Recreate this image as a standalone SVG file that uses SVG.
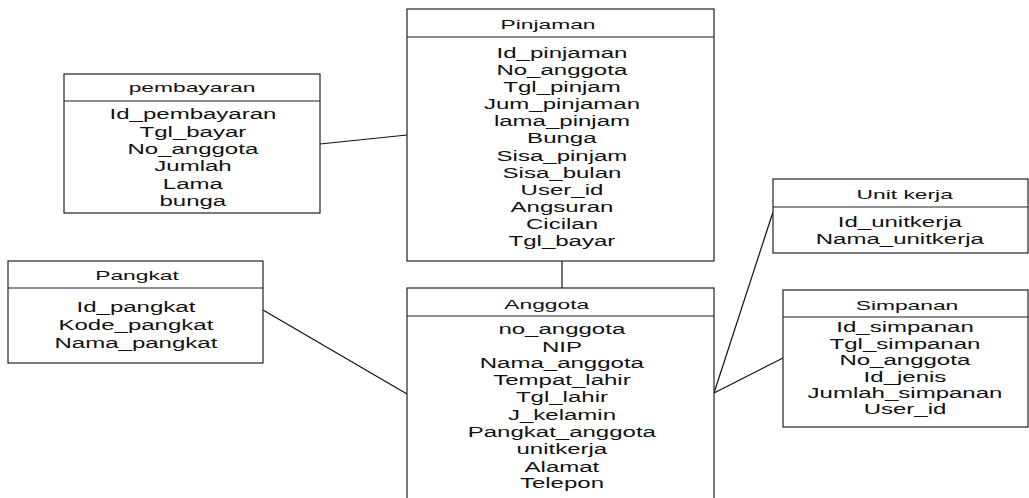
<svg xmlns="http://www.w3.org/2000/svg" width="1029" height="498" viewBox="0 0 1029 498">
<style>
rect.box{fill:#fff;stroke:#222;stroke-width:1.2}
line.div{stroke:#222;stroke-width:1.2}
.conn line{stroke:#111;stroke-width:1.2}
text{font-family:"Liberation Sans",Arial,sans-serif;fill:#111;text-anchor:middle;transform-box:fill-box;transform-origin:center}
.t{font-size:12px;transform:scaleX(1.9)}
.a{font-size:15.5px;transform:scaleX(1.55)}
</style>
<rect width="1029" height="498" fill="#fff"/>
<g id="connectors" class="conn">
<line x1="562" y1="261" x2="562" y2="288"/>
<line x1="320" y1="144" x2="407" y2="135"/>
<line x1="263" y1="310" x2="407" y2="394"/>
<line x1="773" y1="212" x2="714" y2="393"/>
<line x1="783" y1="358" x2="714" y2="393"/>
</g>
<g id="pinjaman">
<rect class="box" x="407" y="9" width="307" height="252"/>
<line class="div" x1="407" y1="37" x2="714" y2="37"/>
<text class="t" x="548" y="29">Pinjaman</text>
<text class="a" x="562" y="58">Id_pinjaman</text>
<text class="a" x="562" y="75">No_anggota</text>
<text class="a" x="562" y="92">Tgl_pinjam</text>
<text class="a" x="562" y="109">Jum_pinjaman</text>
<text class="a" x="562" y="126">lama_pinjam</text>
<text class="a" x="562" y="143">Bunga</text>
<text class="a" x="562" y="161">Sisa_pinjam</text>
<text class="a" x="562" y="178">Sisa_bulan</text>
<text class="a" x="562" y="195">User_id</text>
<text class="a" x="562" y="212">Angsuran</text>
<text class="a" x="562" y="229">Cicilan</text>
<text class="a" x="562" y="246">Tgl_bayar</text>
</g>
<g id="pembayaran">
<rect class="box" x="64" y="74" width="256" height="139"/>
<line class="div" x1="64" y1="101" x2="320" y2="101"/>
<text class="t" x="192" y="92">pembayaran</text>
<text class="a" x="193" y="119">Id_pembayaran</text>
<text class="a" x="193" y="137">Tgl_bayar</text>
<text class="a" x="193" y="154">No_anggota</text>
<text class="a" x="193" y="171">Jumlah</text>
<text class="a" x="193" y="189">Lama</text>
<text class="a" x="193" y="206">bunga</text>
</g>
<g id="pangkat">
<rect class="box" x="8" y="261" width="255" height="102"/>
<line class="div" x1="8" y1="288" x2="263" y2="288"/>
<text class="t" x="137" y="280">Pangkat</text>
<text class="a" x="136" y="312">Id_pangkat</text>
<text class="a" x="136" y="330">Kode_pangkat</text>
<text class="a" x="136" y="348">Nama_pangkat</text>
</g>
<g id="anggota">
<rect class="box" x="407" y="288" width="307" height="230"/>
<line class="div" x1="407" y1="316" x2="714" y2="316"/>
<text class="t" x="547" y="309">Anggota</text>
<text class="a" x="562" y="334">no_anggota</text>
<text class="a" x="562" y="352">NIP</text>
<text class="a" x="562" y="368">Nama_anggota</text>
<text class="a" x="562" y="385">Tempat_lahir</text>
<text class="a" x="562" y="402">Tgl_lahir</text>
<text class="a" x="562" y="420">J_kelamin</text>
<text class="a" x="562" y="437">Pangkat_anggota</text>
<text class="a" x="562" y="454">unitkerja</text>
<text class="a" x="562" y="472">Alamat</text>
<text class="a" x="562" y="488">Telepon</text>
</g>
<g id="unitkerja">
<rect class="box" x="773" y="179" width="255" height="74"/>
<line class="div" x1="773" y1="207" x2="1028" y2="207"/>
<text class="t" x="905" y="199">Unit kerja</text>
<text class="a" x="900" y="227">Id_unitkerja</text>
<text class="a" x="900" y="244">Nama_unitkerja</text>
</g>
<g id="simpanan">
<rect class="box" x="783" y="290" width="245" height="137"/>
<line class="div" x1="783" y1="317" x2="1028" y2="317"/>
<text class="t" x="907" y="310">Simpanan</text>
<text class="a" x="905" y="332">Id_simpanan</text>
<text class="a" x="905" y="349">Tgl_simpanan</text>
<text class="a" x="905" y="365">No_anggota</text>
<text class="a" x="905" y="382">Id_jenis</text>
<text class="a" x="905" y="398">Jumlah_simpanan</text>
<text class="a" x="905" y="414">User_id</text>
</g>
</svg>
